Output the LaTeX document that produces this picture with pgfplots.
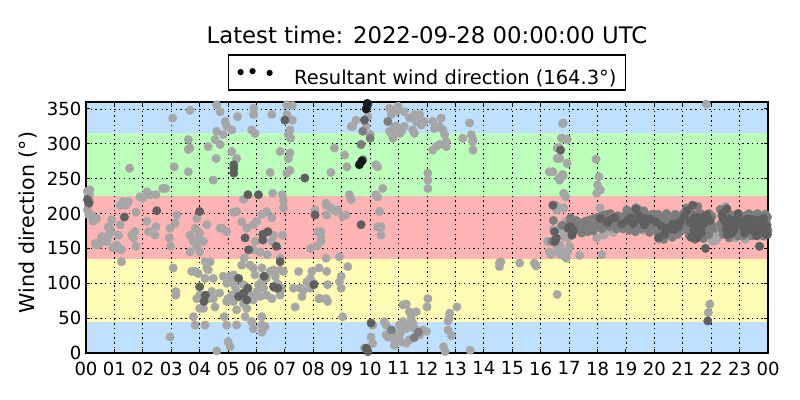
\documentclass[border=0pt]{standalone}
\usepackage{fontspec}
\setmainfont{DejaVu Sans}
\usepackage{pgfplots}
\pgfplotsset{compat=1.18}
\definecolor{bandblue}{RGB}{191,223,255}
\definecolor{bandgreen}{RGB}{187,255,187}
\definecolor{bandred}{RGB}{255,180,180}
\definecolor{bandyellow}{RGB}{255,251,180}
\definecolor{ptlight}{RGB}{166,166,166}
\definecolor{ptmid}{RGB}{125,125,125}
\definecolor{ptdark}{RGB}{95,95,95}
\definecolor{ptblack}{RGB}{25,25,25}
\begin{document}
\begin{tikzpicture}
\path[use as bounding box] (0,0) rectangle (576bp,288bp);
\begin{axis}[
  at={(61.92bp,33.84bp)}, anchor=south west,
  scale only axis, width=491.04bp, height=180.72bp,
  xmin=0, xmax=24, ymin=0, ymax=360,
  xtick={0,1,...,24},
  xticklabels={00,01,02,03,04,05,06,07,08,09,10,11,12,13,14,15,16,17,18,19,20,21,22,23,00},
  ytick={0,50,...,350},
  grid=major,
  major grid style={black, line width=0.6bp, dash pattern=on 1bp off 2.4bp},
  axis line style={black, line width=1bp},
  tick align=inside, major tick length=3bp,
  tick style={black, line width=0.7bp},
  axis on top,
  /pgf/number format/assume math mode=true,
  ticklabel style={font=\fontsize{13bp}{15bp}\selectfont},
  xticklabel style={inner sep=0pt, yshift=-6.1bp},
  yticklabel style={inner sep=0pt, xshift=-3.1bp},
  ylabel={Wind direction (°)},
  ylabel style={font=\fontsize{14.8bp}{17bp}\selectfont, at={([xshift=-41.4bp,yshift=3.6bp]axis description cs:0,0.5)}, anchor=center, rotate=0},
  legend style={at={([yshift=8.64bp]axis description cs:0.5,1)}, anchor=south, draw=black, line width=0.8bp,
     inner xsep=6.5bp, inner ysep=0pt, outer sep=0pt, column sep=15.5bp,
     font=\fontsize{14bp}{16bp}\selectfont,
     nodes={inner sep=0pt, text height=20.9bp, text depth=4.3bp}},
  clip=true,
]
\fill[bandblue] (axis cs:0,0) rectangle (axis cs:24,45);
\fill[bandyellow] (axis cs:0,45) rectangle (axis cs:24,135);
\fill[bandred] (axis cs:0,135) rectangle (axis cs:24,225);
\fill[bandgreen] (axis cs:0,225) rectangle (axis cs:24,315);
\fill[bandblue] (axis cs:0,315) rectangle (axis cs:24,360);

\addlegendimage{legend image code/.code={
  \fill[black] (0bp,0.3bp) circle (1.8bp);
  \fill[black] (8.6bp,1bp) circle (1.8bp);
  \fill[black] (20.9bp,-0.3bp) circle (1.8bp);}}
\addlegendentry{Resultant wind direction (164.3°)}

\addplot[only marks, mark=*, mark size=3bp, color=ptlight, mark options={draw=none, fill=ptlight}, forget plot] coordinates {
(0.05,232) (0.08,225) (0.14,234) (0.12,227) (0.14,217) (0.08,212) (0.05,205) (0.1,198) (0.2,198) (0.26,189) (0.38,193) (0.32,157) (0.38,155) (0.44,155) (0.5,160) (0.56,160) (0.62,165) (0.55,167) (0.67,165) (0.73,160) (0.8,169) (0.88,174) (0.78,181) (0.84,179) (0.9,191) (0.95,151) (1.08,155) (1.14,150) (1.25,148) (1.25,131) (1.2,184) (1.14,169) (1.2,212) (1.3,217) (1.4,212) (1.49,217) (1.53,265) (1.67,165) (1.61,169) (1.72,174) (1.76,153) (1.76,202) (1.9,224) (2.0,222) (2.14,231) (2.25,227) (2.14,189) (2.2,174) (2.46,227) (2.46,181) (2.43,169) (2.7,236) (2.8,236) (2.96,179) (2.93,165) (2.98,153) (2.96,23) (3.2,198) (3.14,186) (3.05,337) (3.1,267) (3.07,122) (3.16,88) (3.16,83) (3.66,348) (3.6,306) (3.66,294) (3.6,292) (3.6,260) (3.72,117) (3.84,117) (3.9,193) (3.84,179) (3.95,165) (4.0,172) (3.78,160) (3.9,153) (4.13,160) (4.25,184) (3.66,169) (4.0,145) (3.66,145) (3.95,114) (4.19,107) (4.25,122) (4.3,119) (4.19,131) (4.37,131) (4.48,107) (4.43,88) (3.9,78) (4.0,83) (4.31,78) (4.48,78) (4.54,66) (4.13,64) (4.0,64) (3.78,52) (3.84,40) (4.19,40) (4.6,356) (4.72,346) (4.9,332) (4.95,325) (4.6,318) (4.54,306) (4.83,313) (4.72,299) (4.3,296) (5.13,320) (5.33,339) (5.13,289) (5.3,279) (4.58,279) (4.48,248) (4.95,174) (4.78,179) (4.72,179) (4.7,86) (4.83,110) (4.95,100) (5.07,110) (5.19,112) (5.13,102) (5.25,95) (5.3,88) (5.13,83) (5.0,78) (4.95,74) (5.19,74) (5.54,98) (5.6,78) (5.72,83) (5.54,71) (5.66,64) (5.3,62) (5.6,52) (5.83,45) (5.3,40) (4.95,40) (4.86,52) (5.48,126) (5.77,126) (5.95,112) (5.89,122) (6.19,122) (6.25,110) (6.34,107) (6.48,117) (6.6,119) (6.66,110) (6.83,119) (6.95,117) (6.72,100) (6.77,98) (6.19,102) (6.07,98) (6.01,88) (6.25,93) (6.66,93) (6.83,88) (6.36,83) (6.54,78) (6.83,83) (5.83,83) (5.89,76) (6.13,81) (6.19,52) (6.19,40) (6.3,38) (6.88,93) (7.36,66) (7.3,93) (7.54,93) (7.77,102) (7.89,107) (8.01,100) (7.89,93) (7.66,90) (8.24,78) (8.47,117) (7.6,81) (7.95,117) (7.48,117) (5.0,16) (5.07,9) (4.6,3) (6.19,30) (5.89,35) (5.9,351) (5.9,342) (5.83,320) (5.95,315) (6.54,342) (7.07,356) (7.07,342) (7.26,355) (7.26,334) (7.18,320) (7.12,313) (7.2,308) (6.83,289) (7.18,287) (7.12,279) (6.48,259) (7.18,262) (7.07,258) (5.54,220) (6.57,229) (6.9,227) (6.95,218) (6.95,208) (6.19,199) (6.36,203) (5.19,202) (5.3,203) (6.54,194) (6.01,189) (5.89,184) (6.3,172) (6.6,169) (6.92,169) (5.48,188) (5.66,179) (5.95,160) (5.89,148) (6.13,145) (6.54,160) (6.38,141) (5.57,136) (6.83,136) (8.06,205) (7.9,150) (8.12,153) (8.16,174) (8.45,212)
(9.39,325) (9.33,325) (9.5,334) (9.92,339) (9.86,325) (10.0,313) (9.68,299) (9.1,284) (8.74,294) (9.18,267) (8.62,259) (10.2,270) (10.26,267) (10.68,351) (10.74,342) (10.92,346) (10.98,354) (11.2,346) (10.86,325) (10.98,322) (11.1,318) (10.8,308) (10.74,315) (10.68,318) (10.92,325) (11.04,315) (11.2,325) (11.38,337) (11.56,342) (11.74,342) (11.62,332) (11.8,327) (11.5,320) (11.56,315) (11.9,332) (12.2,332) (12.26,322) (12.44,325) (12.5,337) (12.56,320) (12.62,313) (12.68,303) (12.68,296) (12.44,299) (12.32,296) (12.2,291) (13.26,308) (13.56,313) (13.62,306) (13.6,303) (13.62,291) (13.5,330) (12.03,258) (12.03,248) (12.03,236) (10.44,236) (9.27,227) (9.33,220) (10.2,227) (10.26,224) (8.45,215) (8.62,208) (8.86,205) (9.15,198) (9.03,196) (8.8,203) (8.47,198) (10.33,203) (10.26,181) (10.38,181) (10.38,169) (8.27,174) (8.27,165) (8.27,160) (8.45,136) (8.92,138) (9.21,124) (8.2,122) (8.98,110) (8.92,102) (8.98,93) (8.5,98) (8.45,78) (8.5,74) (8.2,78) (9.03,52) (10.09,40) (10.5,45) (10.56,40) (10.03,23) (10.09,14) (9.8,7) (10.56,26) (10.62,23) (10.85,19) (10.85,11) (11.03,40) (11.09,31) (11.15,45) (11.27,35) (11.33,40) (11.38,59) (11.44,50) (11.5,43) (11.56,35) (11.62,59) (11.68,31) (11.74,26) (11.86,33) (11.98,31) (11.15,69) (11.27,70) (11.09,16) (11.27,14) (10.92,26) (11.03,26) (11.38,19) (12.03,78) (12.0,66) (12.8,57) (12.78,50) (12.74,46) (13.05,66) (12.74,33) (12.86,25) (12.58,9) (12.64,2) (13.52,4) (14.55,129) (14.6,131) (14.55,124) (15.26,129) (15.78,129) (15.84,125) (16.3,145) (16.36,141) (16.24,160) (16.44,177) (16.5,212) (16.62,208) (16.9,189) (16.95,179) (16.95,165) (16.95,145) (16.55,155) (16.62,145) (16.3,260) (16.65,251) (16.77,256) (16.58,279) (16.58,294) (16.77,308) (16.79,330) (16.93,306)
(17.3,182) (17.4,179) (17.55,175) (18.55,173) (18.25,170) (20.15,163) (22.05,160) (22.15,161) (22.2,163) (22.3,174) (21.83,357) (21.95,70) (21.9,58) (17.37,140) (17.95,278) (18.05,253) (18.0,241) (17.97,229) (18.1,234) (18.08,208) (18.2,169) (18.15,141) (17.97,165) (16.85,145) (16.9,136) (17.02,153) (16.82,141) (16.7,141) (16.6,150) (16.68,155) (16.82,174) (16.82,167) (16.68,179) (16.58,84) (16.77,329) (16.73,308) (16.93,307) (16.64,295) (16.67,279) (16.93,272) (16.79,254) (16.67,248) (16.81,229) (16.88,224) (16.53,212) (16.57,205) (16.81,208) (16.43,260) (19.35,209) (22.5,210) (22.85,165)
(17.6,176) (17.75,180) (18.5,178) (19.6,176) (20.6,171) (22.25,168) (23.2,163) (21.2,203)
};

\addplot[only marks, mark=*, mark size=3bp, color=ptmid, mark options={draw=none, fill=ptmid}, forget plot] coordinates {
(17.02,186) (17.08,179) (17.12,172) (17.18,181) (17.22,176) (17.28,184) (17.33,178) (17.38,185) (17.42,180) (17.47,187) (17.52,182) (17.58,189) (17.62,184) (17.68,179) (17.72,191) (17.78,186) (17.83,181) (17.88,193) (17.92,187) (17.97,182)
(18.03,195) (18.08,189) (18.12,184) (18.17,197) (18.22,191) (18.27,186) (18.32,199) (18.37,193) (18.42,181) (18.47,188) (18.52,195) (18.57,184) (18.62,190) (18.67,178) (18.72,197) (18.77,186) (18.82,192) (18.87,182) (18.92,196) (18.97,188)
(19.02,193) (19.07,185) (19.12,199) (19.17,190) (19.22,182) (19.27,196) (19.32,188) (19.37,201) (19.42,193) (19.47,184) (19.52,198) (19.57,189) (19.62,181) (19.67,195) (19.72,187) (19.77,178) (19.82,192) (19.87,183) (19.92,199) (19.97,188)
(20.02,194) (20.07,183) (20.12,172) (20.17,189) (20.22,178) (20.27,168) (20.32,186) (20.37,175) (20.42,192) (20.47,181) (20.52,170) (20.57,188) (20.62,177) (20.67,193) (20.72,182) (20.77,172) (20.82,190) (20.87,179) (20.92,195) (20.97,185)
(21.02,200) (21.07,192) (21.12,184) (21.17,176) (21.22,197) (21.27,189) (21.32,181) (21.37,173) (21.42,195) (21.47,186) (21.52,178) (21.57,199) (21.62,190) (21.67,182) (21.72,174) (21.77,194) (21.82,185) (21.87,177) (21.92,200) (21.97,191)
(22.02,184) (22.07,178) (22.32,206) (22.37,197) (22.42,189) (22.47,181) (22.52,173) (22.57,194) (22.62,186) (22.67,178) (22.72,198) (22.77,190) (22.82,182) (22.87,174) (22.92,195) (22.97,187)
(23.02,179) (23.07,193) (23.12,185) (23.17,177) (23.22,197) (23.27,189) (23.32,181) (23.37,173) (23.42,194) (23.47,186) (23.52,178) (23.57,198) (23.62,190) (23.67,182) (23.72,174) (23.77,195) (23.82,187) (23.87,179) (23.92,199) (23.97,184) (24.0,176)
(19.03,205) (19.13,176) (19.23,203) (19.33,174) (19.43,206) (19.53,178) (19.63,204) (19.73,198) (19.83,173) (19.93,180) (19.08,196) (19.58,194)
(20.03,176) (20.13,199) (20.23,190) (20.33,163) (20.43,200) (20.53,186) (20.63,166) (20.73,199) (20.83,170) (20.93,176) (20.28,195) (20.78,190)
(21.03,182) (21.13,208) (21.23,168) (21.33,200) (21.43,163) (21.53,210) (21.63,200) (21.73,164) (21.83,178) (21.93,170) (21.18,190) (21.68,193)
(22.03,196) (22.33,185) (22.43,170) (22.53,200) (22.63,165) (22.73,183) (22.83,195) (22.93,168) (22.38,178) (22.88,190)
(23.03,196) (23.13,168) (23.23,185) (23.33,200) (23.43,168) (23.53,194) (23.63,200) (23.73,185) (23.83,168) (23.93,190) (23.28,175) (23.78,180) (23.98,195) (23.18,190)
(17.05,194) (17.25,190) (17.45,172) (17.65,174) (17.85,175) (18.15,178) (18.45,200) (18.65,187) (18.9,178)
(16.4,160) (16.75,183) (16.45,190) (9.74,318) (10.0,308) (9.68,299) (10.62,332) (11.7,30) (11.55,22) (10.75,33)
};

\addplot[only marks, mark=*, mark size=3bp, color=ptdark, mark options={draw=none, fill=ptdark}, forget plot] coordinates {
(0.05,220) (0.1,215) (5.2,270) (5.2,265) (5.2,258) (7.0,334) (7.7,251) (5.7,227) (6.07,227) (5.6,165) (6.22,170) (6.22,162) (6.4,174) (6.7,153) (5.72,148) (6.83,131) (4.0,203) (4.0,95) (4.2,83) (4.15,74) (5.37,107) (5.37,81) (5.55,86) (5.7,93) (5.66,76) (6.6,95) (6.75,93) (6.27,110) (8.02,98) (8.06,198) (1.35,195) (2.49,204)
(9.92,356) (9.8,334) (9.74,277) (9.68,184) (10.03,43) (9.86,7) (9.92,2) (16.49,174) (16.96,179) (16.55,165) (16.43,212) (16.7,291) (16.5,160)
(17.05,181) (17.15,176) (17.1,169) (18.1,193) (18.35,187) (18.6,194) (18.85,185) (19.05,190) (19.25,186) (19.45,197) (19.65,184) (19.85,192) (19.35,207) (20.05,188) (20.25,182) (20.45,176) (20.65,185) (20.85,181) (20.15,165) (20.35,170) (21.05,196) (21.15,204) (21.25,187) (21.35,212) (21.45,180) (21.55,194) (21.65,172) (21.75,186) (21.85,198) (21.3,166) (21.5,165) (21.4,176) (21.6,187) (21.95,190) (21.8,150) (22.4,200) (22.5,188) (22.6,181) (22.7,185) (22.8,177) (22.9,192) (22.55,207) (22.65,173) (23.05,188) (23.15,180) (23.25,192) (23.35,184) (23.45,176) (23.55,190) (23.65,185) (23.75,178) (23.85,193) (23.95,181) (23.7,153) (23.9,171) (23.6,168) (22.95,200) (21.88,46)
(21.33,190) (21.43,195) (21.53,182) (21.63,178) (21.73,195) (21.48,172) (21.58,170) (22.43,193) (22.53,178) (22.63,192) (22.73,172) (22.83,186) (22.58,170) (23.08,183) (23.18,172) (23.28,183) (23.38,192) (23.48,184) (23.58,176) (23.68,190) (23.88,184) (23.98,170) (19.5,192) (19.7,193) (20.5,180) (20.7,177) (20.9,188) (19.15,194) (18.4,190)
};

\addplot[only marks, mark=*, mark size=3bp, color=ptblack, mark options={draw=none, fill=ptblack}, forget plot] coordinates {
(9.86,350) (9.62,270) (9.7,275) (9.9,358)
};
\end{axis}
\node[anchor=base, font=\fontsize{16.4bp}{19bp}\selectfont] at (307.44bp,256.8bp) {Latest time: 2022-09-28 00:00:00 UTC};
\end{tikzpicture}
\end{document}
